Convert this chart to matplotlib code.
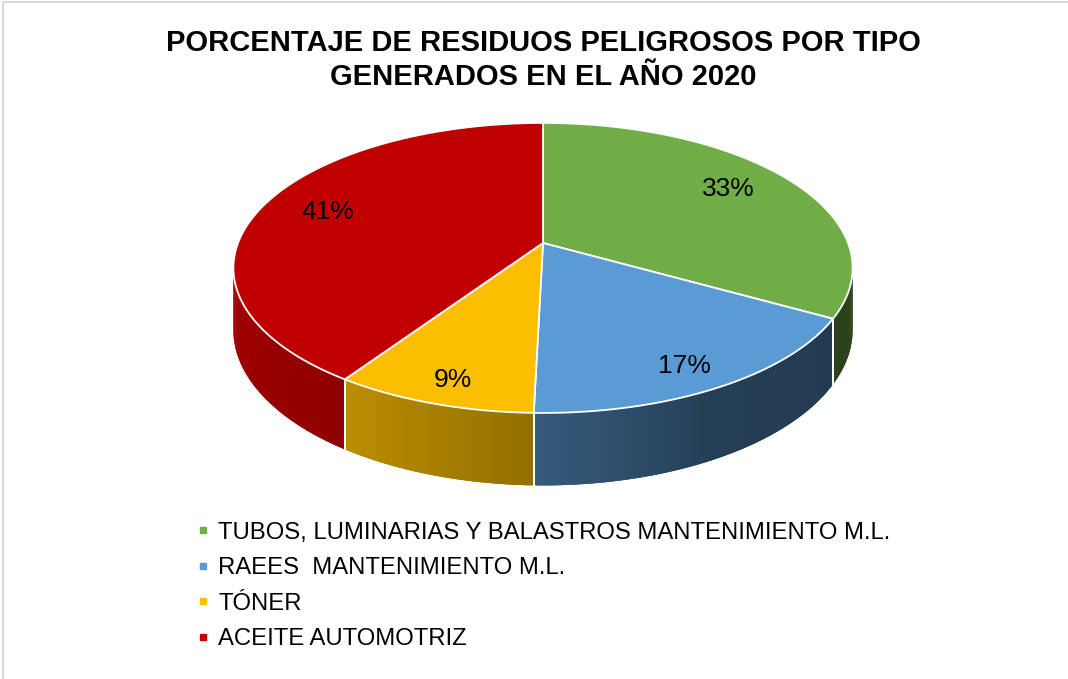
import numpy as np
import matplotlib
matplotlib.use("Agg")
import matplotlib.pyplot as plt
from matplotlib.patches import Polygon, Rectangle
from matplotlib.lines import Line2D

# data
categories = [
    "TUBOS, LUMINARIAS Y BALASTROS MANTENIMIENTO M.L.",
    "RAEES  MANTENIMIENTO M.L.",
    "TÓNER",
    "ACEITE AUTOMOTRIZ",
]
shares = [33.2, 17.2, 9.0, 40.6]
labels = ["33%", "17%", "9%", "41%"]
colors = ["#70AD47", "#5B9BD5", "#FBBE00", "#C00000"]

title = "PORCENTAJE DE RESIDUOS PELIGROSOS POR TIPO\nGENERADOS EN EL AÑO 2020"

plt.rcParams['font.family'] = ['Liberation Sans', 'DejaVu Sans']

W, H = 1068, 679
fig = plt.figure(figsize=(W / 100, H / 100), dpi=100)
ax = fig.add_axes([0, 0, 1, 1])
ax.set_xlim(0, W)
ax.set_ylim(H, 0)
ax.axis("off")

# chart border (only top / left visible in the crop)
ax.add_patch(Rectangle((2.5, 2), W + 10, H + 10, fill=False, ec="#D9D9D9", lw=1.5))

# 3d pie geometry (pixel space)
cx, cy = 543, 243
rx, ry = 305, 140.7
persp = 0.172
thick = 60


def project(theta, r=1.0, depth=0.0):
    k = 1.0 / (1.0 + persp * r * np.sin(theta))
    x = cx + r * rx * np.cos(theta) * k
    y = cy - r * ry * np.sin(theta) * k + depth * k
    return x, y


def shade(theta_deg):
    return np.interp(theta_deg, [-171, -122, -90, -62, -10],
                     [0.86, 0.74, 0.58, 0.40, 0.37])


total = sum(shares)
cum = np.concatenate([[0], np.cumsum(shares)]) / total
bounds = 90 - 360 * cum  # degrees, clockwise from 12 o'clock
vis_lo, vis_hi = -170.1, -9.9

# side walls with gradient (overlapping strips so no seams show)
for i, c in enumerate(colors):
    a0, a1 = bounds[i + 1], bounds[i]  # a0 < a1
    lo, hi = max(a0, vis_lo), min(a1, vis_hi)
    if lo >= hi:
        continue
    base = np.array(matplotlib.colors.to_rgb(c))
    steps = np.linspace(lo, hi, max(int((hi - lo) * 3), 2))
    dstep = steps[1] - steps[0]
    for t0 in steps[:-1]:
        t1 = min(t0 + 2.5 * dstep, hi)
        th = np.radians(np.linspace(t0, t1, 4))
        xt, yt = project(th)
        xb, yb = project(th, depth=thick)
        col = np.clip(base * shade(t0 + 0.5 * dstep), 0, 1)
        ax.add_patch(Polygon(np.column_stack([np.r_[xt, xb[::-1]], np.r_[yt, yb[::-1]]]),
                             closed=True, fc=col, ec="none", zorder=2))
    # white seams at slice boundaries on the wall
    for b in (a0, a1):
        if vis_lo < b < vis_hi:
            xt, yt = project(np.radians(b))
            xb, yb = project(np.radians(b), depth=thick)
            ax.plot([xt, xb], [yt, yb], color="white", lw=1.3, zorder=3)

# top faces
for i, c in enumerate(colors):
    th = np.radians(np.linspace(bounds[i], bounds[i + 1], 200))
    xs, ys = project(th)
    pts = np.column_stack([np.r_[cx, xs], np.r_[cy, ys]])
    ax.add_patch(Polygon(pts, closed=True, fc=c, ec="white", lw=1.3, zorder=4))

# data labels
for i, lab in enumerate(labels):
    mid = np.radians(0.5 * (bounds[i] + bounds[i + 1]))
    x, _ = project(mid, r=0.78 - 0.055 * np.sin(mid))
    _, y = project(mid, r=0.86)
    ax.text(x - 1, y + 2.5, lab, ha="center", va="center", fontsize=19, zorder=5)

# title
ax.text(543, 60, title, ha="center", va="center", fontsize=21, fontweight="bold",
        linespacing=1.25, zorder=5)

# legend
handles = [Line2D([], [], ls="none", marker="s", ms=5, mfc=c, mec=c) for c in colors]
fig.legend(handles, categories, loc="upper left", bbox_to_anchor=(186 / W, 1 - 512 / H),
           frameon=False, fontsize=17.2, handlelength=0.6, handletextpad=0.35,
           labelspacing=0.57, borderaxespad=0)

fig.savefig("out.png", dpi=100)
